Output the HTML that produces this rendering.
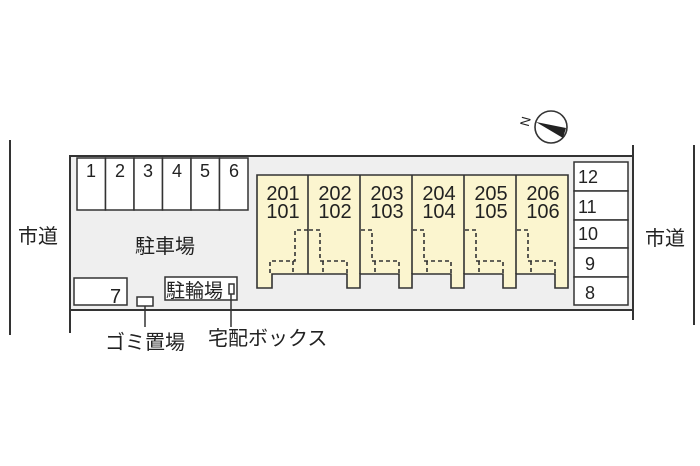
<!DOCTYPE html>
<html><head><meta charset="utf-8"><style>
html,body{margin:0;padding:0;background:#fff}
svg{display:block}
text{font-family:"Liberation Sans","Noto Sans CJK JP",sans-serif;fill:#222}
</style></head><body>
<svg width="700" height="466" viewBox="0 0 700 466" xmlns="http://www.w3.org/2000/svg">
<rect x="70" y="156" width="563" height="154" fill="#efefef"/>
<g stroke="#333" stroke-width="2" fill="none">
<line x1="10" y1="140" x2="10" y2="335"/>
<line x1="694" y1="145" x2="694" y2="325"/>
<line x1="69" y1="156" x2="634" y2="156"/>
<line x1="69" y1="310" x2="634" y2="310"/>
<line x1="70" y1="155" x2="70" y2="333"/>
<line x1="633" y1="145" x2="633" y2="320"/>
</g>
<g stroke="#333" stroke-width="1.5" fill="#fff">
<rect x="77" y="158" width="28.5" height="52"/>
<rect x="105.5" y="158" width="28.5" height="52"/>
<rect x="134" y="158" width="28.5" height="52"/>
<rect x="162.5" y="158" width="28.5" height="52"/>
<rect x="191" y="158" width="28.5" height="52"/>
<rect x="219.5" y="158" width="28.5" height="52"/>
<rect x="574" y="162" width="54" height="29"/>
<rect x="574" y="191" width="54" height="29"/>
<rect x="574" y="220" width="54" height="28"/>
<rect x="574" y="248" width="54" height="29"/>
<rect x="574" y="277" width="54" height="28"/>
<rect x="74" y="278" width="53" height="27"/>
<rect x="137" y="297" width="16" height="9"/>
<rect x="165" y="277" width="72" height="23"/>
<rect x="229" y="284" width="5" height="10"/>
</g>
<g stroke="#333" stroke-width="1.5">
<line x1="145" y1="306" x2="145" y2="327"/>
<line x1="231" y1="294" x2="231" y2="327"/>
</g>
<path d="M257 175 H568 V288 H555 V274 H516 V288 H503 V274 H464 V288 H451 V274 H412 V288 H399 V274 H360 V288 H347 V274 H272 V288 H257 Z" fill="#fbf5cf" stroke="#333" stroke-width="1.6"/>
<g stroke="#333" stroke-width="1.6">
<line x1="308" y1="175" x2="308" y2="274"/>
<line x1="360" y1="175" x2="360" y2="274"/>
<line x1="412" y1="175" x2="412" y2="274"/>
<line x1="464" y1="175" x2="464" y2="274"/>
<line x1="516" y1="175" x2="516" y2="274"/>
</g>
<g stroke="#333" stroke-width="1.6" fill="none" stroke-dasharray="4,3">
<path d="M308 230 H295 V261 H270 V274"/>
<line x1="293" y1="261" x2="293" y2="274"/>
<path d="M309 230 H320 V261 H347 V274"/>
<line x1="323" y1="261" x2="323" y2="274"/>
<path d="M361 230 H372 V261 H399 V274"/>
<line x1="375" y1="261" x2="375" y2="274"/>
<path d="M413 230 H424 V261 H451 V274"/>
<line x1="427" y1="261" x2="427" y2="274"/>
<path d="M465 230 H476 V261 H503 V274"/>
<line x1="479" y1="261" x2="479" y2="274"/>
<path d="M517 230 H528 V261 H555 V274"/>
<line x1="531" y1="261" x2="531" y2="274"/>
</g>
<g font-size="18" text-anchor="middle">
<text x="91" y="177">1</text><text x="120" y="177">2</text><text x="148" y="177">3</text>
<text x="177" y="177">4</text><text x="205" y="177">5</text><text x="234" y="177">6</text>
</g>
<g font-size="20" text-anchor="middle">
<text x="283" y="200">201</text><text x="283" y="218">101</text>
<text x="335" y="200">202</text><text x="335" y="218">102</text>
<text x="387" y="200">203</text><text x="387" y="218">103</text>
<text x="439" y="200">204</text><text x="439" y="218">104</text>
<text x="491" y="200">205</text><text x="491" y="218">105</text>
<text x="543" y="200">206</text><text x="543" y="218">106</text>
</g>
<g font-size="18">
<text x="578" y="183">12</text><text x="578" y="213">11</text><text x="578" y="240">10</text>
<text x="585" y="270">9</text><text x="585" y="299">8</text>
<text x="110" y="303" font-size="20">7</text>
</g>
<g font-size="20">
<text x="135" y="253">駐車場</text>
<text x="18" y="243">市道</text>
<text x="645" y="245">市道</text>
<text x="166" y="297" font-size="19">駐輪場</text>
<text x="105" y="349">ゴミ置場</text>
<text x="208" y="345">宅配ボックス</text>
</g>
<circle cx="551" cy="127" r="16" fill="#fff" stroke="#333" stroke-width="1.6"/>
<path d="M536 122 L566 128 L563 138 Z" fill="#222"/>
<text x="520" y="126" font-size="13" transform="rotate(-75 525 121)">N</text>
</svg>
</body></html>
